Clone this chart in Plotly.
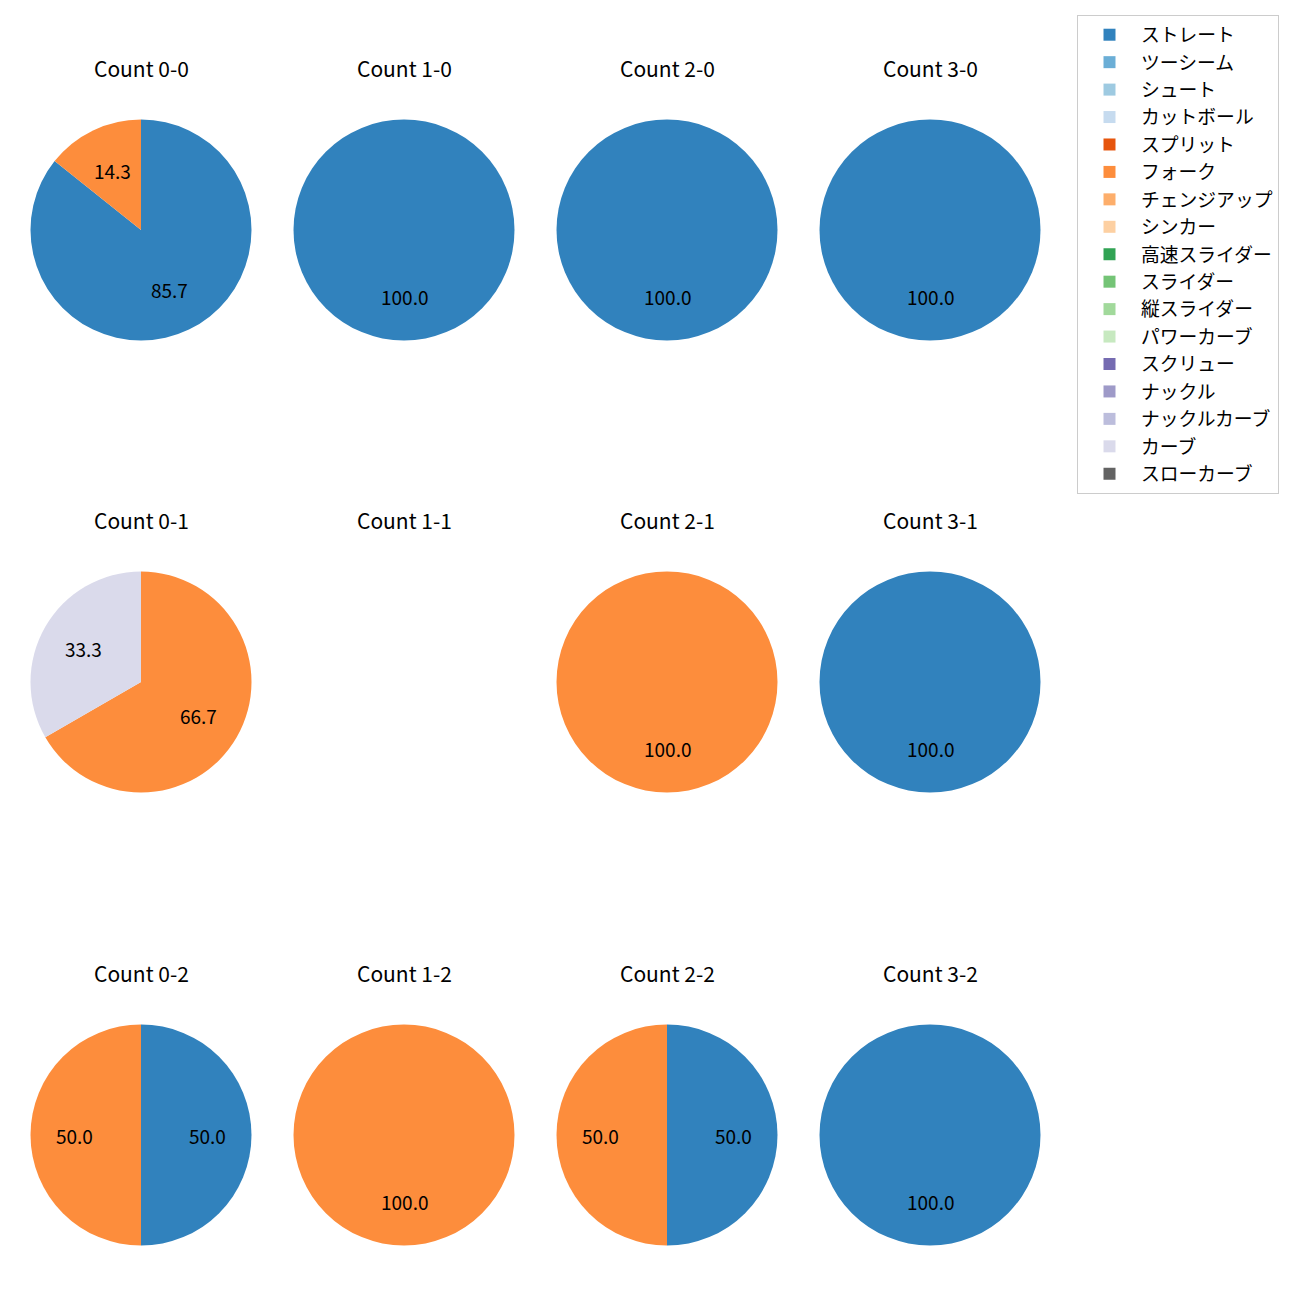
import math
import plotly.graph_objects as go

# ---- data ----
pitch_types = ["ストレート", "ツーシーム", "シュート", "カットボール", "スプリット", "フォーク",
               "チェンジアップ", "シンカー", "高速スライダー", "スライダー", "縦スライダー",
               "パワーカーブ", "スクリュー", "ナックル", "ナックルカーブ", "カーブ", "スローカーブ"]
colors = ["#3182bd", "#6baed6", "#9ecae1", "#c6dbef", "#e6550d", "#fd8d3c", "#fdae6b", "#fdd0a2",
          "#31a354", "#74c476", "#a1d99b", "#c7e9c0", "#756bb1", "#9e9ac8", "#bcbddc", "#dadaeb",
          "#636363"]
balls = [0, 1, 2, 3]
strikes = [0, 1, 2]
# counts per pitch type for each ball-strike count (only non-zero listed)
count_data = {
    (0, 0): {"ストレート": 6, "フォーク": 1},
    (1, 0): {"ストレート": 1},
    (2, 0): {"ストレート": 1},
    (3, 0): {"ストレート": 1},
    (0, 1): {"フォーク": 2, "カーブ": 1},
    (1, 1): {},
    (2, 1): {"フォーク": 1},
    (3, 1): {"ストレート": 1},
    (0, 2): {"ストレート": 1, "フォーク": 1},
    (1, 2): {"フォーク": 1},
    (2, 2): {"ストレート": 1, "フォーク": 1},
    (3, 2): {"ストレート": 1},
}

# ---- layout constants (pixels) ----
W = H = 1300
OFF = 8  # page body margin in the browser
col_cx = [141, 404, 667, 930]
row_cy = [230, 682, 1135]
R = 110.5
title_offset = 162
FONT = "Noto Sans CJK JP"


def px_x(x):
    return (x - OFF) / W


def px_y(y):
    return 1 - (y - OFF) / H


fig = go.Figure()
annotations = []
first = True
for si, s in enumerate(strikes):
    for bi, b in enumerate(balls):
        cx, cy = col_cx[bi], row_cy[si]
        annotations.append(dict(
            text=f"Count {b}-{s}", x=px_x(cx), y=px_y(cy - title_offset),
            xref="paper", yref="paper", showarrow=False,
            font=dict(family=FONT, size=21, color="#000000"), xanchor="center", yanchor="middle"))
        d = count_data[(b, s)]
        vals = [d.get(p, 0) for p in pitch_types]
        total = sum(vals)
        if total == 0:
            continue
        fig.add_trace(go.Pie(
            labels=pitch_types, values=vals, sort=False, direction="clockwise", rotation=0,
            marker=dict(colors=colors), textinfo="none", hoverinfo="label+percent",
            showlegend=first,
            domain=dict(x=[px_x(cx - R), px_x(cx + R)], y=[px_y(cy + R), px_y(cy - R)]),
        ))
        first = False
        cum = 0
        for v in vals:
            if v > 0:
                mid = 90 - 360 * (cum + v / 2) / total
                lx = cx + 0.6 * R * math.cos(math.radians(mid))
                ly = cy - 0.6 * R * math.sin(math.radians(mid))
                annotations.append(dict(
                    text=f"{100 * v / total:.1f}", x=px_x(lx), y=px_y(ly),
                    xref="paper", yref="paper", showarrow=False,
                    font=dict(family=FONT, size=19, color="#000000"),
                    xanchor="center", yanchor="middle"))
            cum += v

fig.update_layout(
    width=W, height=H, margin=dict(l=0, r=0, t=0, b=0),
    paper_bgcolor="white", plot_bgcolor="white",
    annotations=annotations,
    legend=dict(x=px_x(1077), y=px_y(15), xanchor="left", yanchor="top",
                bordercolor="#cccccc", borderwidth=1, bgcolor="white",
                itemwidth=53, entrywidth=181, entrywidthmode="pixels",
                font=dict(family=FONT, size=18.8, color="#000000"), traceorder="normal"),
    font=dict(family=FONT),
)
fig.write_html("out.html")
